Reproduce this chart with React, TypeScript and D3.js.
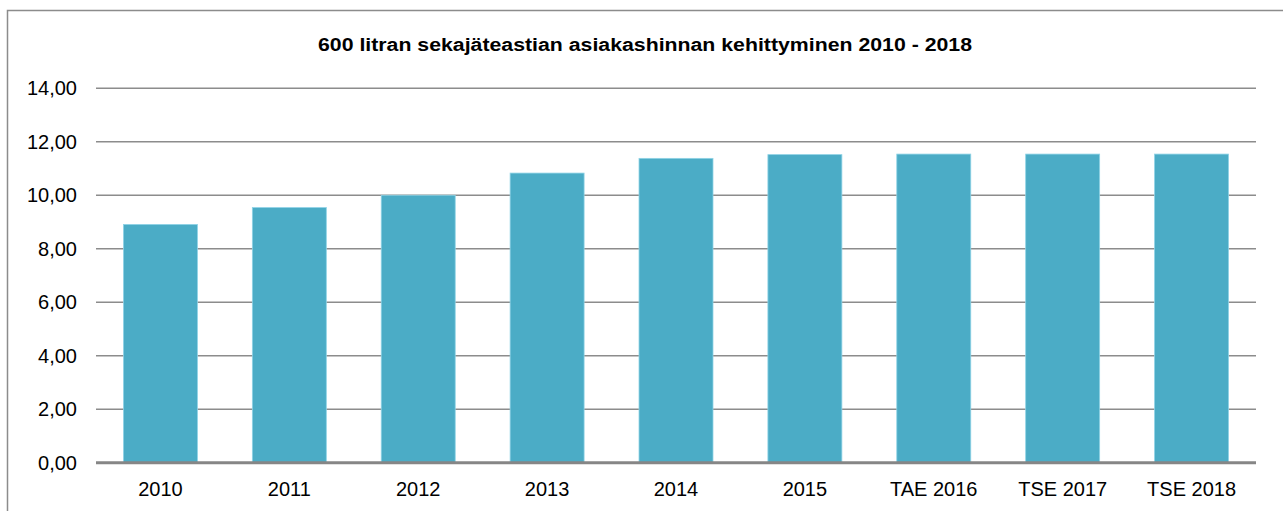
import React from "react";
import * as d3 from "d3";

const categories = ["2010", "2011", "2012", "2013", "2014", "2015", "TAE 2016", "TSE 2017", "TSE 2018"];
const values = [8.91, 9.54, 10.0, 10.83, 11.38, 11.52, 11.54, 11.54, 11.54];
const yTicks = [0, 2, 4, 6, 8, 10, 12, 14];
const title = "600 litran sekajäteastian asiakashinnan kehittyminen 2010 - 2018";

export default function App() {
  const W = 1283, H = 511;
  const left = 96, right = 1256, top = 88.3, bottom = 462.7;
  const x = d3.scaleBand<string>().domain(categories).range([left, right]).paddingInner(0.426).paddingOuter(0.213);
  const y = d3.scaleLinear().domain([0, 14]).range([bottom, top]);
  const fmt = (v: number) => d3.format(".2f")(v).replace(".", ",");
  const font = "'Liberation Sans', Arial, sans-serif";
  return (
    <svg width={W} height={H} style={{ position: "absolute", left: 0, top: 0, background: "#fff" }} fontFamily={font}>
      <rect x={7.5} y={10.5} width={1300} height={600} fill="#fff" stroke="#8c8c8c" strokeWidth={1.5} />
      <text x={645} y={50.5} textAnchor="middle" fontWeight="bold" fontSize={18} textLength={654} lengthAdjust="spacingAndGlyphs">{title}</text>
      {yTicks.map((t) => (
        <g key={t}>
          {t !== 0 && <line x1={left} x2={right} y1={y(t)} y2={y(t)} stroke="#8c8c8c" strokeWidth={1.5} />}
          <text x={77} y={y(t)} dy="0.35em" textAnchor="end" fontSize={20} fill="#000">{fmt(t)}</text>
        </g>
      ))}
      {categories.map((c, i) => (
        <rect key={c} x={x(c)} y={y(values[i])} width={x.bandwidth()} height={bottom - y(values[i])} fill="#4bacc6" stroke="#8fd3e6" strokeWidth={0.8} />
      ))}
      <line x1={left} x2={right} y1={bottom} y2={bottom} stroke="#868686" strokeWidth={3} />
      {categories.map((c) => (
        <text key={c} x={(x(c) as number) + x.bandwidth() / 2} y={496} textAnchor="middle" fontSize={20} fill="#000">{c}</text>
      ))}
    </svg>
  );
}
